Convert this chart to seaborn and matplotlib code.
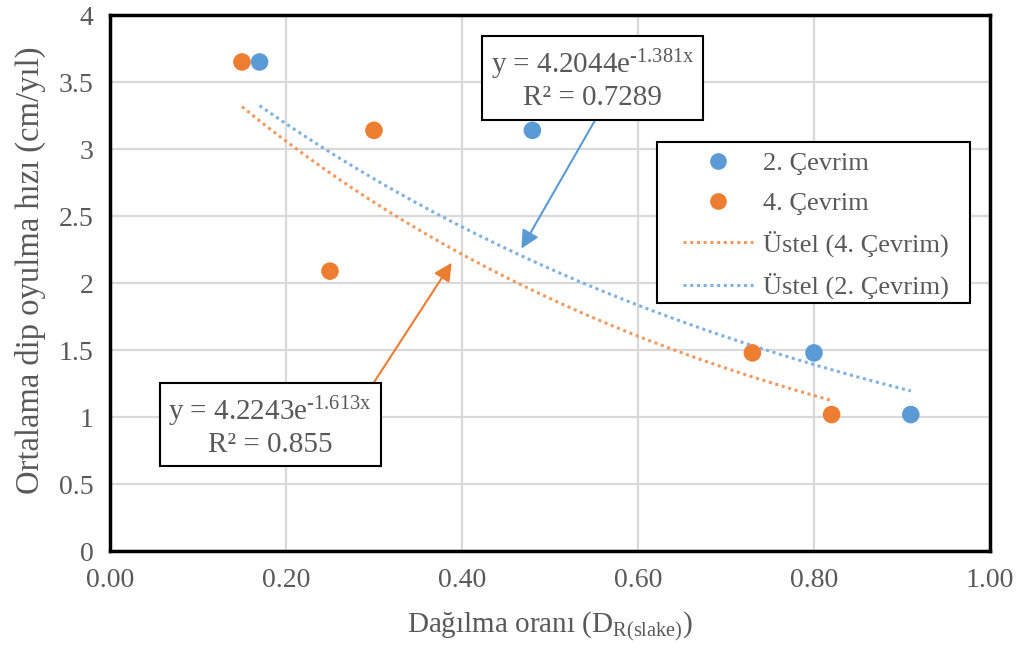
import numpy as np
import pandas as pd
import matplotlib
matplotlib.use("Agg")
import matplotlib.pyplot as plt
from matplotlib.ticker import FixedLocator, FuncFormatter
from matplotlib.lines import Line2D
from matplotlib.patches import Rectangle
import seaborn as sns

# Observed values for each cycle
x_cycle2 = [0.17, 0.48, 0.80, 0.91]
y_cycle2 = [3.65, 3.14, 1.48, 1.02]
x_cycle4 = [0.15, 0.25, 0.30, 0.73, 0.82]
y_cycle4 = [3.65, 2.09, 3.14, 1.48, 1.02]

# Exponential trend coefficients (y = a * exp(b * x)) and R^2
a2, b2, r2_2 = 4.2044, -1.381, 0.7289
a4, b4, r2_4 = 4.2243, -1.613, 0.855

x_ticks = [0.0, 0.2, 0.4, 0.6, 0.8, 1.0]
y_ticks = [0, 0.5, 1, 1.5, 2, 2.5, 3, 3.5, 4]

blue = "#5B9BD5"
orange = "#ED7D31"
blue_trend = "#7FB2E0"
orange_trend = "#F29A5E"
tick_grey = "#595959"

sns.set_theme(style="whitegrid")
plt.rcParams["font.family"] = ["Liberation Serif", "DejaVu Serif"]
plt.rcParams["mathtext.fontset"] = "custom"
plt.rcParams["mathtext.rm"] = "Liberation Serif"
plt.rcParams["mathtext.it"] = "Liberation Serif:italic"

fig = plt.figure(figsize=(10.22, 6.54), dpi=100)
ax = fig.add_axes([0.1076, 0.157, 0.8611, 0.820])

pts = pd.concat([
    pd.DataFrame({"x": x_cycle2, "y": y_cycle2, "seri": "2. Çevrim"}),
    pd.DataFrame({"x": x_cycle4, "y": y_cycle4, "seri": "4. Çevrim"}),
])

def trend(xs, a, b):
    xx = np.linspace(min(xs), max(xs), 100)
    return pd.DataFrame({"x": xx, "y": a * np.exp(b * xx)})

t4 = trend(x_cycle4, a4, b4)
t2 = trend(x_cycle2, a2, b2)

dots = (0, (1, 1.2))
sns.scatterplot(data=pts, x="x", y="y", hue="seri",
                palette={"2. Çevrim": blue, "4. Çevrim": orange},
                s=160, edgecolor="none", ax=ax, zorder=3, legend=False)
sns.lineplot(data=t4, x="x", y="y", color=orange_trend, lw=2.2,
             linestyle=dots, ax=ax, zorder=2)
sns.lineplot(data=t2, x="x", y="y", color=blue_trend, lw=2.2,
             linestyle=dots, ax=ax, zorder=2)

ax.set_xlim(0, 1.0)
ax.set_ylim(0, 4)
ax.xaxis.set_major_locator(FixedLocator(x_ticks))
ax.yaxis.set_major_locator(FixedLocator(y_ticks))
ax.xaxis.set_major_formatter(FuncFormatter(lambda v, p: f"{v:.2f}"))
ax.yaxis.set_major_formatter(FuncFormatter(lambda v, p: f"{v:g}"))
ax.tick_params(axis="both", length=0, labelsize=20, colors=tick_grey, pad=12)
ax.grid(True, color="#D9D9D9", lw=1.6)
ax.set_axisbelow(True)
for sp in ax.spines.values():
    sp.set_color("black")
    sp.set_linewidth(2.5)

ax.set_xlabel(r"Dağılma oranı (D$_{\mathrm{R(slake)}}$)", fontsize=21,
              color=tick_grey, labelpad=12)
ax.set_ylabel("Ortalama dip oyulma hızı (cm/yıl)", fontsize=23.5,
              color=tick_grey)
ax.yaxis.set_label_coords(-0.073, 0.525)

# Legend frame drawn separately so the padding can differ per side
fig.add_artist(Rectangle((657 / 1022, 1 - 303 / 654), 313 / 1022, 161 / 654,
                         transform=fig.transFigure, fc="white", ec="black",
                         lw=1.5, zorder=4))
handles = [
    Line2D([], [], marker="o", ls="none", color=blue, markersize=11),
    Line2D([], [], marker="o", ls="none", color=orange, markersize=11),
    Line2D([], [], color=orange_trend, lw=2.2, ls=dots),
    Line2D([], [], color=blue_trend, lw=2.2, ls=dots),
]
labels = ["2. Çevrim", "4. Çevrim", "Üstel (4. Çevrim)", "Üstel (2. Çevrim)"]
leg = fig.legend(handles, labels, loc="upper left",
                 bbox_to_anchor=(683 / 1022, 1 - 152 / 654),
                 bbox_transform=fig.transFigure, borderaxespad=0,
                 borderpad=0, fontsize=19, frameon=False, handlelength=2.65,
                 handletextpad=0.4, labelspacing=0.6)
leg.set_zorder(6)
for t in leg.get_texts():
    t.set_color(tick_grey)

box = dict(boxstyle="square,pad=0.3", fc="white", ec="black", lw=1.5)

# Trend equation labels with arrows
ax.annotate("", xy=(0.466, 2.24), xytext=(0.556, 3.27),
            arrowprops=dict(arrowstyle="-|>,head_length=0.9,head_width=0.45",
                            color=blue, lw=1.5), zorder=4)
ax.text(0.548, 3.52,
        "y = %.4fe$^{\\mathrm{\u2010%.3fx}}$\nR² = %.4f" % (a2, abs(b2), r2_2),
        ha="center", va="center", fontsize=21, color=tick_grey,
        bbox=box, linespacing=1.15, zorder=5)

ax.annotate("", xy=(0.39, 2.17), xytext=(0.297, 1.23),
            arrowprops=dict(arrowstyle="-|>,head_length=0.9,head_width=0.45",
                            color=orange, lw=1.5), zorder=4)
ax.text(0.182, 0.935,
        "y = %.4fe$^{\\mathrm{\u2010%.3fx}}$\nR² = %.3f" % (a4, abs(b4), r2_4),
        ha="center", va="center", fontsize=21, color=tick_grey,
        bbox=box, linespacing=1.15, zorder=5)

fig.savefig("out.png", dpi=100)
